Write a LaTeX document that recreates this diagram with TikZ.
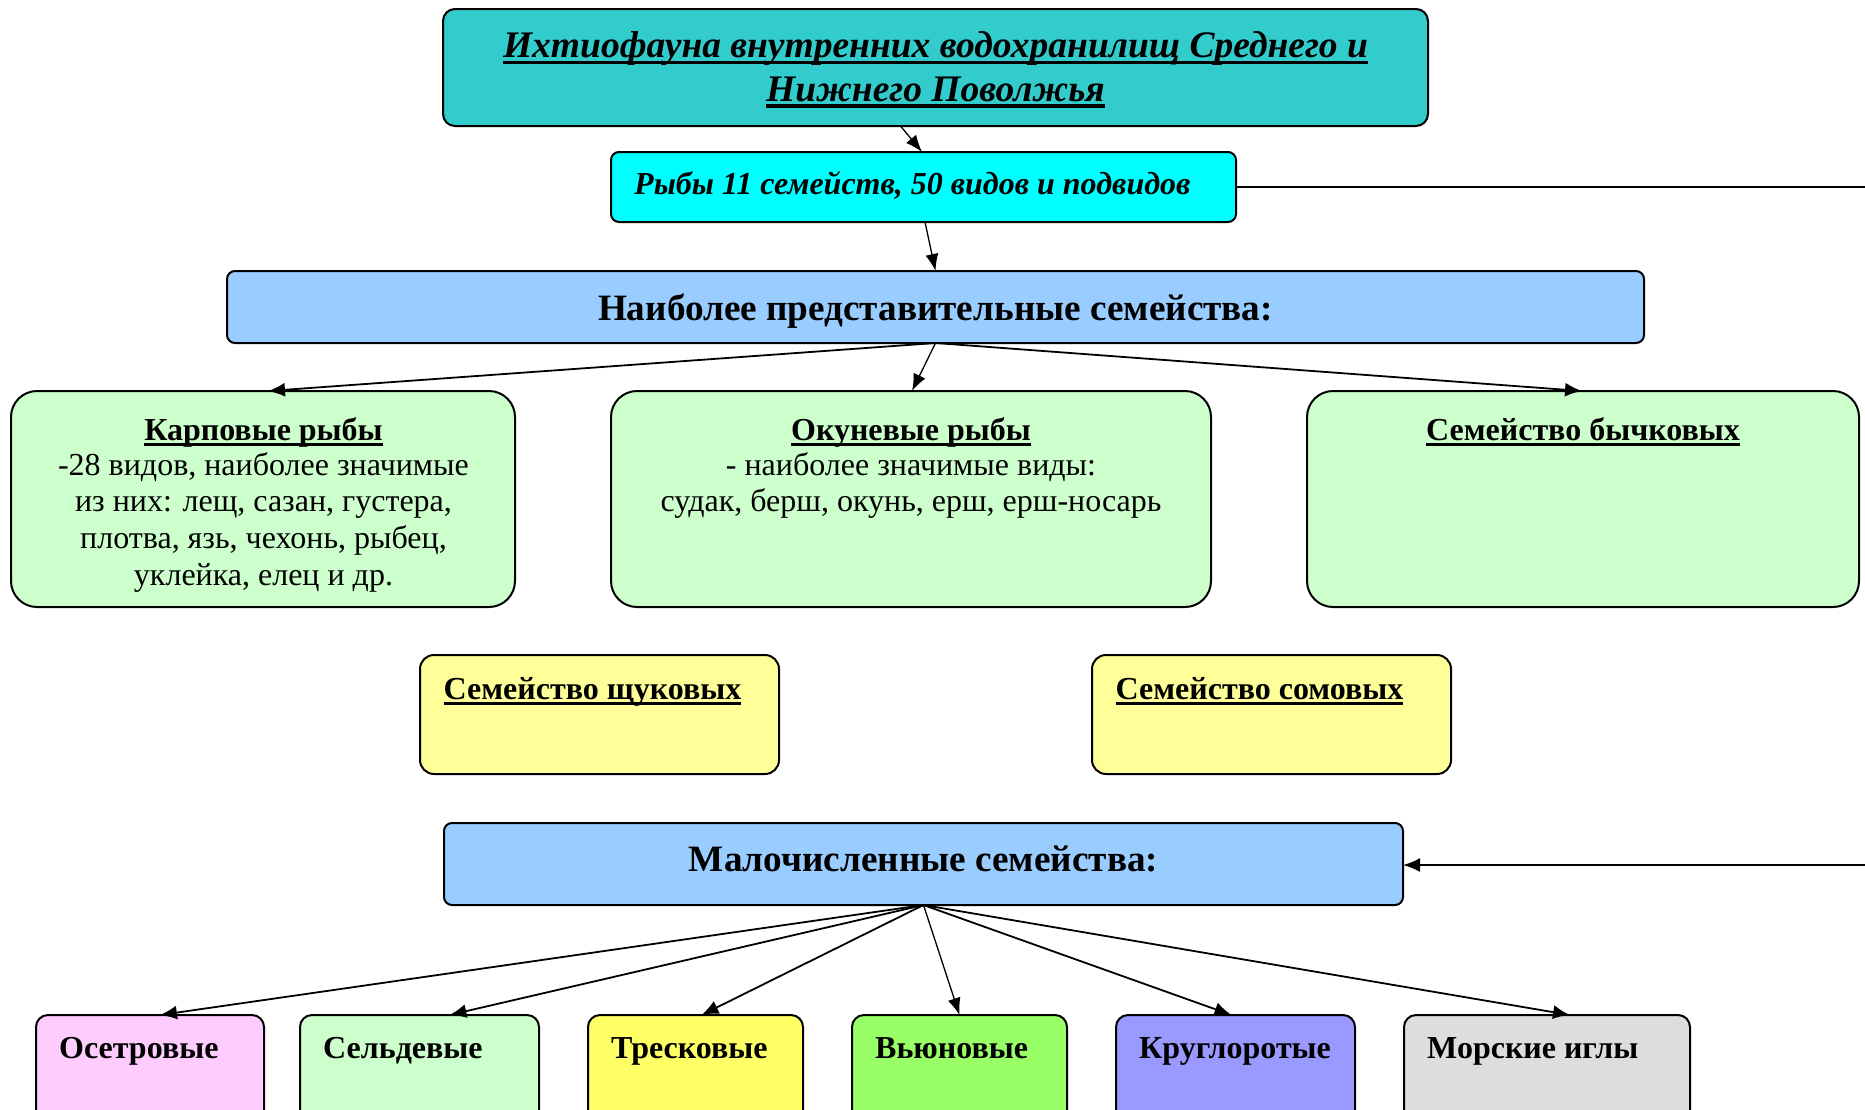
\documentclass[tikz,border=0pt]{standalone}
\usepackage{fontspec}
\setmainfont{Liberation Serif}
\usetikzlibrary{arrows.meta,calc}

% thick underline drawn under a single line of text
\newcommand\ulin[1]{\setbox0\hbox{#1}\rlap{\vrule height -0.09em depth 0.18em width \wd0}\box0}

\definecolor{titlefill}{HTML}{33CCCC}
\definecolor{cyanfill}{HTML}{00FFFF}
\definecolor{bluefill}{HTML}{99CCFF}
\definecolor{greenfill}{HTML}{CCFFCC}
\definecolor{yellowfill}{HTML}{FFFF99}
\definecolor{pinkfill}{HTML}{FFCCFF}
\definecolor{lemonfill}{HTML}{FFFF66}
\definecolor{limefill}{HTML}{99FF66}
\definecolor{violetfill}{HTML}{9999FF}
\definecolor{greyfill}{HTML}{DDDDDD}

\tikzset{
  box/.style={draw=black, line width=2pt, rectangle, inner sep=0pt, outer sep=0pt},
  famtext/.style={inner sep=0pt, font=\fontsize{32}{37}\selectfont},
  famhead/.style={inner sep=0pt, font=\fontsize{32}{37}\selectfont\bfseries},
  sectext/.style={inner sep=0pt, font=\fontsize{37.2}{42}\selectfont\bfseries},
  smalltext/.style={inner sep=0pt, font=\fontsize{32}{37}\selectfont\bfseries},
  conn/.style={line width=1.8pt, -{Latex[length=17pt,width=14pt]}},
  thinconn/.style={line width=1.3pt, -{Latex[length=17pt,width=13pt]}},
  plainline/.style={line width=1.8pt},
}

\begin{document}
\begin{tikzpicture}[x=1pt,y=-1pt]
\clip (0,0) rectangle (1865,1109);

% ---- headline block
\node[box, fill=titlefill, rounded corners=12, minimum width=985, minimum height=117] (title) at (935.5,67.5) {};
\node[inner sep=0pt, anchor=base, font=\fontsize{37.5}{44}\selectfont\bfseries\itshape] (title-l1) at (935.5,57.5)
  {\ulin{Ихтиофауна внутренних водохранилищ Среднего и}};
\node[inner sep=0pt, anchor=base, font=\fontsize{37.5}{44}\selectfont\bfseries\itshape] (title-l2) at (935.5,101)
  {\ulin{Нижнего Поволжья}};

\node[box, fill=cyanfill, rounded corners=8, minimum width=625, minimum height=70] (ryby) at (923.5,187) {};
\node[inner sep=0pt, anchor=base west, font=\fontsize{32}{37}\selectfont\bfseries\itshape] (ryby-t) at (634,194)
  {Рыбы 11 семейств, 50 видов и подвидов};

% ---- main families
\node[box, fill=bluefill, rounded corners=8, minimum width=1417, minimum height=72] (naib) at (935.5,307) {};
\node[sectext, anchor=base] (naib-t) at (935.5,320) {Наиболее представительные семейства:};

\node[box, fill=greenfill, rounded corners=26, minimum width=504, minimum height=216] (karp) at (263,499) {};
\node[famhead, anchor=base] (karp-h) at (263.5,440) {\ulin{Карповые рыбы}};
\node[famtext, anchor=base] (karp-1) at (263.5,475) {-28 видов, наиболее значимые};
\node[famtext, anchor=base] (karp-2) at (263.5,511.7) {из них: лещ, сазан, густера,};
\node[famtext, anchor=base] (karp-3) at (263.5,548.3) {плотва, язь, чехонь, рыбец,};
\node[famtext, anchor=base] (karp-4) at (263.5,585) {уклейка, елец и др.};

\node[box, fill=greenfill, rounded corners=26, minimum width=600, minimum height=216] (okun) at (911,499) {};
\node[famhead, anchor=base] (okun-h) at (911,440) {\ulin{Окуневые рыбы}};
\node[famtext, anchor=base] (okun-1) at (911,475) {- наиболее значимые виды:};
\node[famtext, anchor=base] (okun-2) at (911,511.7) {судак, берш, окунь, ерш, ерш-носарь};

\node[box, fill=greenfill, rounded corners=26, minimum width=552, minimum height=216] (bych) at (1583,499) {};
\node[famhead, anchor=base] (bych-h) at (1583,440) {\ulin{Семейство бычковых}};

\node[box, fill=yellowfill, rounded corners=14, minimum width=359, minimum height=119] (shch) at (599.5,714.5) {};
\node[famhead, anchor=base west] (shch-h) at ([xshift=23.5,yshift=-44]shch.north west) {\ulin{Семейство щуковых}};

\node[box, fill=yellowfill, rounded corners=14, minimum width=359, minimum height=119] (som) at (1271.5,714.5) {};
\node[famhead, anchor=base west] (som-h) at ([xshift=23.5,yshift=-44]som.north west) {\ulin{Семейство сомовых}};

% ---- minor families
\node[box, fill=bluefill, rounded corners=8, minimum width=959, minimum height=82] (mal) at (923.5,864) {};
\node[sectext, anchor=base] (mal-t) at (923.5,871) {Малочисленные семейства:};

\node[box, fill=pinkfill,   rounded corners=12, minimum width=228, minimum height=140] (oset) at (150,1085) {};
\node[box, fill=greenfill,  rounded corners=12, minimum width=239, minimum height=140] (seld) at (419.5,1085) {};
\node[box, fill=lemonfill,  rounded corners=12, minimum width=215, minimum height=140] (tres) at (695.5,1085) {};
\node[box, fill=limefill,   rounded corners=12, minimum width=215, minimum height=140] (vyun) at (959.5,1085) {};
\node[box, fill=violetfill, rounded corners=12, minimum width=239, minimum height=140] (krug) at (1235.5,1085) {};
\node[box, fill=greyfill,   rounded corners=12, minimum width=286, minimum height=140] (mors) at (1547,1085) {};

\node[smalltext, anchor=base west] (oset-t) at ([xshift=23,yshift=-43]oset.north west) {Осетровые};
\node[smalltext, anchor=base west] (seld-t) at ([xshift=23,yshift=-43]seld.north west) {Сельдевые};
\node[smalltext, anchor=base west] (tres-t) at ([xshift=23,yshift=-43]tres.north west) {Тресковые};
\node[smalltext, anchor=base west] (vyun-t) at ([xshift=23,yshift=-43]vyun.north west) {Вьюновые};
\node[smalltext, anchor=base west] (krug-t) at ([xshift=23,yshift=-43]krug.north west) {Круглоротые};
\node[smalltext, anchor=base west] (mors-t) at ([xshift=23,yshift=-43]mors.north west) {Морские иглы};

% ---- connectors
\draw[thinconn] ([xshift=-35]title.south) -- ([xshift=-1.5]ryby.north);
\draw[thinconn] ([xshift=1.5]ryby.south) -- (naib.north);
\draw[conn] (naib.south) -- ([xshift=5]karp.north);
\draw[thinconn] (naib.south) -- ([xshift=1]okun.north);
\draw[conn] (naib.south) -- ([xshift=-1]bych.north);

\coordinate (rimA) at (1875,187);
\coordinate (rimB) at (1875,865);
\draw[plainline] (ryby.east |- rimA) -- (rimA);
\draw[conn] (rimB) -- (mal.east |- rimB);

\draw[conn] (mal.south) -- ([xshift=10]oset.north);
\draw[conn] (mal.south) -- ([xshift=30]seld.north);
\draw[conn] (mal.south) -- ([xshift=6]tres.north);
\draw[thinconn] (mal.south) -- (vyun.north);
\draw[conn] (mal.south) -- ([xshift=-4]krug.north);
\draw[conn] (mal.south) -- ([xshift=23]mors.north);
\end{tikzpicture}
\end{document}
